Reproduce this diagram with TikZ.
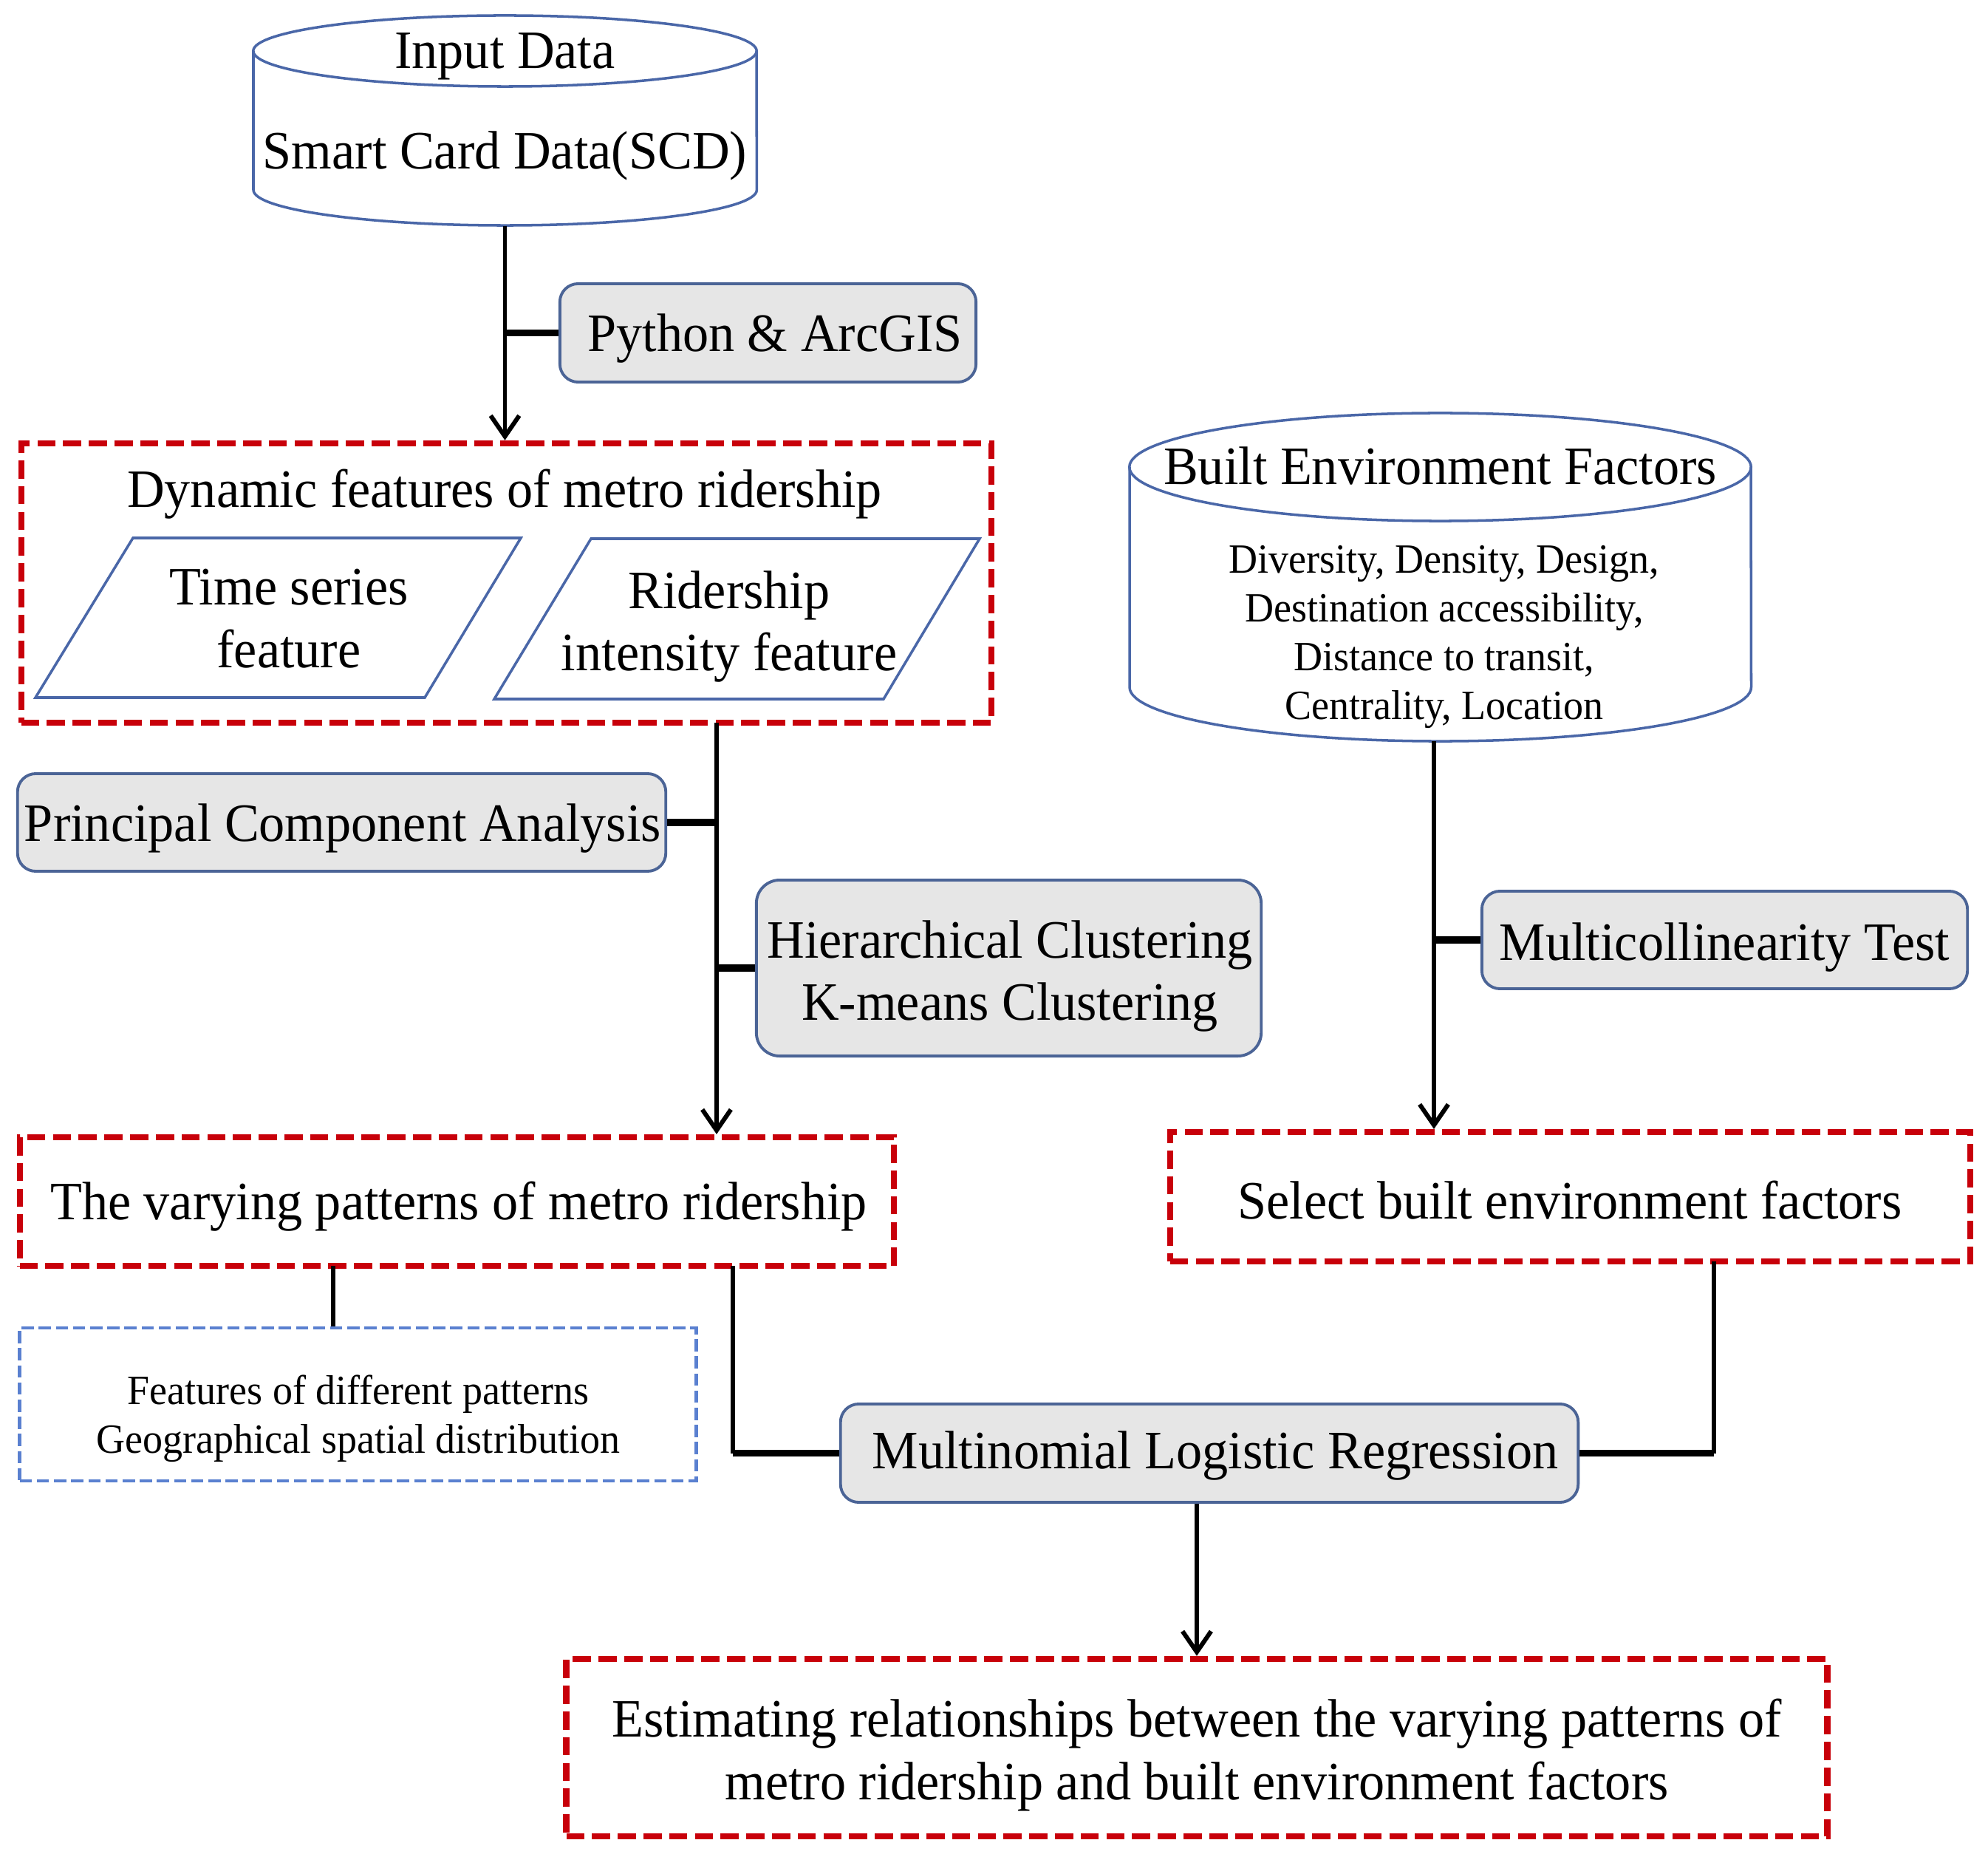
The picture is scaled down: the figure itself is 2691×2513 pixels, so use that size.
\documentclass[tikz,border=0pt]{standalone}
\usepackage{fontspec}
\setmainfont{Liberation Serif}[FakeStretch=0.96]
\usetikzlibrary{arrows.meta}
\definecolor{redd}{HTML}{C8000A}
\definecolor{cylblue}{HTML}{4A67A8}
\definecolor{boxgray}{HTML}{E6E6E6}
\definecolor{boxedge}{HTML}{4B6496}
\definecolor{lblue}{HTML}{5A80D0}
\begin{document}
\begin{tikzpicture}[x=0.01cm,y=-0.01cm,
  big/.style={font=\fontsize{20.8}{24}\selectfont, align=center, inner sep=0pt},
  small/.style={font=\fontsize{16}{18.7}\selectfont, align=center, inner sep=0pt},
  graybox/.style={draw=boxedge, line width=1.1pt, fill=boxgray, rounded corners=7pt, inner sep=0pt},
  redbox/.style={draw=redd, line width=2.3pt, dash pattern=on 7pt off 2.9pt, inner sep=0pt},
  bluebox/.style={draw=lblue, line width=1.3pt, dash pattern=on 4.7pt off 1.9pt, inner sep=0pt},
  cylline/.style={draw=cylblue, line width=1pt},
  conn/.style={line width=1.7pt, black},
  stub/.style={line width=2.8pt, black},
  arr/.style={conn, -{Straight Barb[length=8pt,width=11pt]}},
]
\useasboundingbox (0,0) rectangle (2691,2513);

% Input data cylinder
\node[inner sep=0pt, minimum width=6.81cm, minimum height=2.84cm] (inp) at (683.5,163) {};
\draw[cylline] (343,69) -- (343,257) arc[start angle=180,end angle=360,x radius=3.405cm,y radius=0.48cm] -- (1024,69);
\draw[cylline] (683.5,69) ellipse[x radius=3.405cm, y radius=0.48cm];
\node[big] (inpt) at (683.5,76) {Input Data};
\node[big] (scd) at (683.5,211) {Smart Card Data(SCD)};

% Python box
\node[graybox, minimum width=5.63cm, minimum height=1.33cm] (py) at (1039.5,450.5) {};
\node[big] (pyt) at (1049,458) {Python \& ArcGIS};

% Dynamic features
\node[redbox, minimum width=13.13cm, minimum height=3.78cm] (dyn) at (685.5,789) {};
\node[big] (dynt) at (683,669) {Dynamic features of metro ridership};
\draw[cylline] (180,728) -- (705,728) -- (575,944) -- (48,944) -- cycle;
\draw[cylline] (800,729) -- (1326,729) -- (1196,946) -- (669,946) -- cycle;
\node[big] (ts) at (391,837) {Time series\\feature};
\node[big] (ri) at (987,848) {Ridership\\intensity feature};

% PCA and clustering
\node[graybox, minimum width=8.77cm, minimum height=1.32cm] (pca) at (462.5,1113) {};
\node[big] (pcat) at (464,1121) {Principal Component Analysis};
\node[graybox, rounded corners=9pt, minimum width=6.83cm, minimum height=2.38cm] (clus) at (1365.5,1310) {};
\node[big] (clust) at (1367,1321) {Hierarchical Clustering\\K-means Clustering};

% Varying patterns
\node[redbox, minimum width=11.83cm, minimum height=1.74cm] (vary) at (618.5,1626) {};
\node[big] (varyt) at (621,1633) {The varying patterns of metro ridership};
\node[bluebox, minimum width=9.15cm, minimum height=2.07cm] (feat) at (484.5,1900.5) {};
\node[small] (featt) at (485,1920) {Features of different patterns\\Geographical spatial distribution};

% Built environment cylinder
\node[inner sep=0pt, minimum width=8.41cm, minimum height=4.44cm] (be) at (1949.5,781) {};
\draw[cylline] (1529,632) -- (1529,930) arc[start angle=180,end angle=360,x radius=4.205cm,y radius=0.73cm] -- (2370,632);
\draw[cylline] (1949.5,632) ellipse[x radius=4.205cm, y radius=0.73cm];
\node[big] (bet) at (1949.5,630) {Built Environment Factors};
\node[small] (bel) at (1955,862) {Diversity, Density, Design,\\Destination accessibility,\\Distance to transit,\\Centrality, Location};

\node[graybox, minimum width=6.57cm, minimum height=1.32cm] (multi) at (2334.5,1272) {};
\node[big] (multit) at (2334.5,1282) {Multicollinearity Test};
\node[redbox, minimum width=10.83cm, minimum height=1.75cm] (sel) at (2125.5,1619.5) {};
\node[big] (selt) at (2125,1624) {Select built environment factors};

% MLR and final
\node[graybox, minimum width=9.98cm, minimum height=1.33cm] (mlr) at (1637,1966.5) {};
\node[big] (mlrt) at (1645,1970) {Multinomial Logistic Regression};
\node[redbox, minimum width=17.06cm, minimum height=2.40cm] (final) at (1620,2365) {};
\node[big] (finalt) at (1620,2375) {Estimating relationships between the varying patterns of\\metro ridership and built environment factors};

% connectors
\draw[arr] (inp.south) -- (inp.south |- dyn.north);
\draw[stub] (py.west) -- (py.west -| inp.south);

\coordinate (dv) at (970,978);
\draw[arr] (dv) -- (dv |- vary.north);
\draw[stub] (pca.east) -- (pca.east -| dv);
\draw[stub] (clus.west) -- (clus.west -| dv);

\coordinate (bv) at (1941,1003);
\draw[arr] (bv) -- (bv |- sel.north);
\draw[stub] (multi.west) -- (multi.west -| bv);

\coordinate (v1) at (451,1713);
\draw[conn] (v1) -- (v1 |- feat.north);
\coordinate (v2) at (992,1713);
\draw[conn] (v2) -- (v2 |- mlr.west);
\draw[stub] (v2 |- mlr.west) -- (mlr.west);
\coordinate (v3) at (2320,1707);
\draw[conn] (v3) -- (v3 |- mlr.east);
\draw[stub] (v3 |- mlr.east) -- (mlr.east);

\draw[arr] (mlr.south -| final.north) -- (final.north);
\end{tikzpicture}
\end{document}
